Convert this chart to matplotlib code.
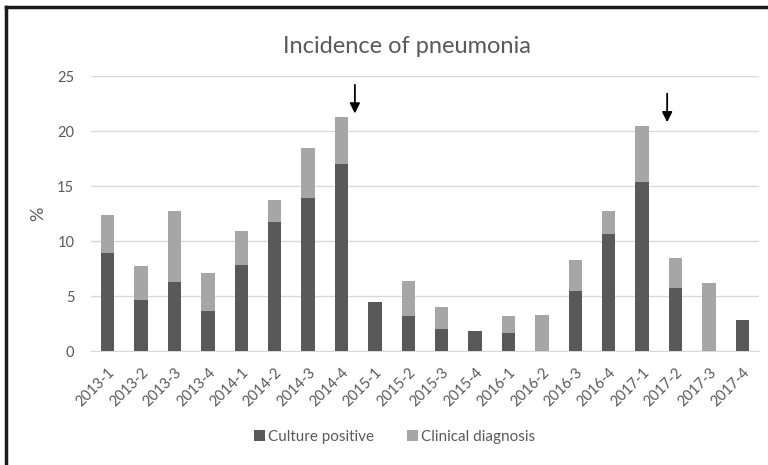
import matplotlib
matplotlib.use("Agg")
import matplotlib.pyplot as plt
from matplotlib.lines import Line2D
import numpy as np

# ---------------------------------------------------------------------------
# Data
# ---------------------------------------------------------------------------
quarters = [
    "2013-1", "2013-2", "2013-3", "2013-4",
    "2014-1", "2014-2", "2014-3", "2014-4",
    "2015-1", "2015-2", "2015-3", "2015-4",
    "2016-1", "2016-2", "2016-3", "2016-4",
    "2017-1", "2017-2", "2017-3", "2017-4",
]
culture_positive = [8.9, 4.6, 6.3, 3.6, 7.8, 11.7, 13.9, 17.0, 4.5, 3.2,
                    2.0, 1.8, 1.6, 0.0, 5.5, 10.6, 15.4, 5.7, 0.0, 2.8]
clinical_diagnosis = [3.5, 3.1, 6.4, 3.5, 3.1, 2.0, 4.6, 4.3, 0.0, 3.2,
                      2.0, 0.0, 1.6, 3.3, 2.8, 2.1, 5.1, 2.8, 6.2, 0.0]

# arrows marking interventions: (x position in category units, top, tip)
arrow_x = [7.4, 16.75]
arrow_top = [24.2, 23.4]
arrow_tip = [21.6, 20.8]

DARK = "#595959"
LIGHT = "#a6a6a6"
TEXT = "#595959"
GRID = "#d9d9d9"

plt.rcParams["font.family"] = ["Lato", "DejaVu Sans"]

fig = plt.figure(figsize=(7.68, 4.65), dpi=100)
ax = fig.add_axes([0.1185, 0.245, 0.8698, 0.5914])

x = np.arange(len(quarters))
ax.bar(x, culture_positive, width=0.4, color=DARK, label="Culture positive", zorder=3)
ax.bar(x, clinical_diagnosis, width=0.4, bottom=culture_positive, color=LIGHT,
       label="Clinical diagnosis", zorder=3)

for xa, yt, yb in zip(arrow_x, arrow_top, arrow_tip):
    ax.annotate("", xy=(xa, yb), xytext=(xa, yt),
                arrowprops=dict(arrowstyle="-|>,head_length=0.6,head_width=0.3",
                                color="black", lw=1.3, shrinkA=0, shrinkB=0),
                zorder=4)

ax.set_xlim(-0.5, len(quarters) - 0.5)
ax.set_ylim(0, 25)
ax.set_yticks([0, 5, 10, 15, 20, 25])
ax.set_xticks(x)
ax.set_xticklabels(quarters, rotation=45, ha="right", va="top",
                   rotation_mode="anchor")
ax.tick_params(axis="both", length=0, colors=TEXT, labelsize=10.5)
ax.tick_params(axis="y", pad=12)
ax.tick_params(axis="x", pad=10)
ax.yaxis.grid(True, color=GRID, lw=1, zorder=0)
for side in ["top", "right", "left"]:
    ax.spines[side].set_visible(False)
ax.spines["bottom"].set_color(GRID)
ax.set_ylabel("%", color=TEXT, fontsize=13, labelpad=8)

fig.text(0.53, 0.9, "Incidence of pneumonia", ha="center", va="center",
         fontsize=17, color=TEXT)

fig.legend(loc="center", bbox_to_anchor=(0.514, 0.06), ncol=2, frameon=False,
           handlelength=0.7, handleheight=0.7, handletextpad=0.2,
           columnspacing=2.2, fontsize=11, labelcolor=TEXT)

# black frame on top and left edge of the image
fig.add_artist(Line2D([0.008, 0.008], [0, 0.985], transform=fig.transFigure,
                      color="#1a1a1a", lw=2.5))
fig.add_artist(Line2D([0.008, 1.0], [0.985, 0.985], transform=fig.transFigure,
                      color="#1a1a1a", lw=2.5))

fig.savefig("out.png", dpi=100)
